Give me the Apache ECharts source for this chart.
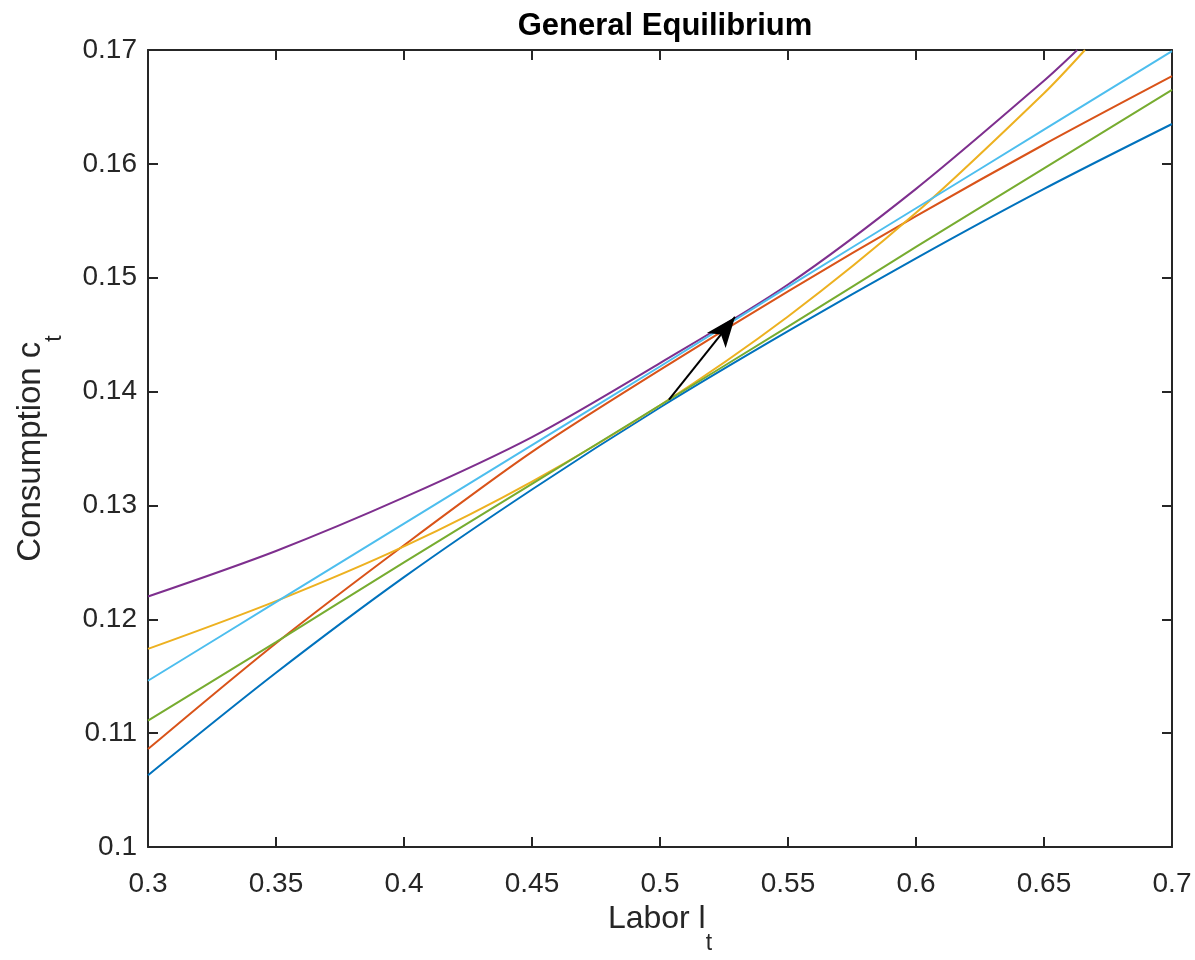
<!DOCTYPE html>
<html>
<head>
<meta charset="utf-8">
<script src="https://cdn.jsdelivr.net/npm/echarts@6/dist/echarts.min.js"></script>
<style>
html,body{margin:0;padding:0;background:#fff;}
#chart{width:1195px;height:960px;}
</style>
</head>
<body>
<div id="chart"></div>
<script>
// ---- data ----
var laborGrid = [0.30, 0.35, 0.40, 0.45, 0.50, 0.55, 0.60, 0.65, 0.70];
var blueVals   = [0.1063, 0.1153, 0.1237, 0.1314, 0.1386, 0.1453, 0.1517, 0.1578, 0.1635];
var redVals    = [0.1086, 0.1179, 0.1265, 0.1347, 0.1419, 0.1488, 0.1554, 0.1617, 0.1677];
var greenVals  = [0.1111, 0.1180, 0.1250, 0.1319, 0.1388, 0.1457, 0.1527, 0.1596, 0.1665];
var cyanVals   = [0.1146, 0.1215, 0.1284, 0.1353, 0.1422, 0.1492, 0.1561, 0.1630, 0.1699];
var yellowX    = [0.30, 0.35, 0.40, 0.45, 0.50, 0.55, 0.60, 0.65, 0.666];
var yellowVals = [0.1174, 0.1216, 0.1264, 0.1321, 0.1388, 0.1466, 0.1557, 0.1662, 0.1700];
var purpleX    = [0.30, 0.35, 0.40, 0.45, 0.50, 0.55, 0.60, 0.65, 0.663];
var purpleVals = [0.1220, 0.1260, 0.1307, 0.1360, 0.1425, 0.1494, 0.1578, 0.1673, 0.1700];
var arrowStart = [0.5035, 0.1393];
var arrowEnd   = [0.5293, 0.14655];
var xTicks = [0.3, 0.35, 0.4, 0.45, 0.5, 0.55, 0.6, 0.65, 0.7];
var yTicks = [0.1, 0.11, 0.12, 0.13, 0.14, 0.15, 0.16, 0.17];

function pairs(xs, ys){ return xs.map(function(x,i){ return [x, ys[i]]; }); }

var FONT = '"Liberation Sans", Arial, Helvetica, sans-serif';
var AX = '#262626';

var chart = echarts.init(document.getElementById('chart'), null, {renderer:'canvas'});

function xAx(pos, labels){
  return {
    type:'value', position:pos, min:xTicks[0], max:xTicks[xTicks.length-1], interval:0.05,
    axisLine:{show:true, onZero:false, lineStyle:{color:AX, width:2}},
    axisTick:{show:true, inside:true, length:10, lineStyle:{color:AX, width:2}},
    axisLabel:{show:labels, color:AX, fontSize:28, fontFamily:FONT, margin:23,
      formatter:function(v){ return String(+v.toFixed(2)); }},
    splitLine:{show:false}
  };
}
function yAx(pos, labels){
  return {
    type:'value', position:pos, min:yTicks[0], max:yTicks[yTicks.length-1], interval:0.01,
    axisLine:{show:true, onZero:false, lineStyle:{color:AX, width:2}},
    axisTick:{show:true, inside:true, length:10, lineStyle:{color:AX, width:2}},
    axisLabel:{show:labels, color:AX, fontSize:28, fontFamily:FONT, margin:11,
      formatter:function(v){ return String(+v.toFixed(2)); }},
    splitLine:{show:false}
  };
}

var xa0 = xAx('bottom', true);
xa0.name = '{m|Labor l}{s|t}';
xa0.nameLocation = 'middle';
xa0.nameGap = 56;
xa0.nameTextStyle = {
  color: AX, fontFamily: FONT,
  rich: {
    m:{fontSize:32, fontFamily:FONT, color:AX, verticalAlign:'top', lineHeight:36},
    s:{fontSize:23, fontFamily:FONT, color:AX, verticalAlign:'bottom', lineHeight:52}
  }
};
var ya0 = yAx('left', true);
ya0.name = '{m|Consumption c}{s|t}';
ya0.nameLocation = 'middle';
ya0.nameGap = 82;
ya0.nameTextStyle = {
  color: AX, fontFamily: FONT,
  rich: {
    m:{fontSize:33, fontFamily:FONT, color:AX, verticalAlign:'top', lineHeight:36},
    s:{fontSize:23, fontFamily:FONT, color:AX, verticalAlign:'bottom', lineHeight:52}
  }
};

function ser(name, data, color){
  return {name:name, type:'line', data:data, showSymbol:false, smooth:0.3,
    xAxisIndex:0, yAxisIndex:0, clip:true,
    lineStyle:{color:color, width:2}, itemStyle:{color:color}, emphasis:{disabled:true}};
}

var option = {
  backgroundColor:'#fff',
  animation:false,
  title:{text:'General Equilibrium', left:660, top:6, textAlign:'center',
    textStyle:{fontFamily:FONT, fontSize:31, fontWeight:'bold', color:'#000'}},
  grid:{left:148, right:23, top:50, bottom:111, containLabel:false},
  xAxis:[xa0, xAx('top', false)],
  yAxis:[ya0, yAx('right', false)],
  series:[
    ser('blue',   pairs(laborGrid, blueVals),   '#0072BD'),
    ser('red',    pairs(laborGrid, redVals),    '#D95319'),
    ser('yellow', pairs(yellowX, yellowVals),   '#EDB120'),
    ser('purple', pairs(purpleX, purpleVals),   '#7E2F8E'),
    ser('green',  pairs(laborGrid, greenVals),  '#77AC30'),
    ser('cyan',   pairs(laborGrid, cyanVals),   '#4DBEEE'),
    {name:'arrow', type:'line', data:[], xAxisIndex:0, yAxisIndex:0,
      markLine:{silent:true, animation:false, symbol:['none','arrow'], symbolSize:[18,30],
        label:{show:false}, lineStyle:{color:'#000', width:2, type:'solid'},
        itemStyle:{color:'#000'},
        emphasis:{disabled:true},
        data:[[{coord:arrowStart}, {coord:arrowEnd}]]}}
  ]
};
chart.setOption(option);
</script>
</body>
</html>
